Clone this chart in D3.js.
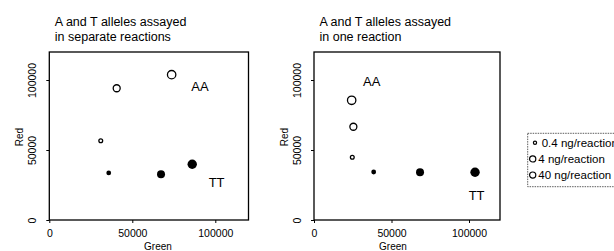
<!DOCTYPE html>
<html>
<head>
<meta charset="utf-8">
<script src="https://cdn.jsdelivr.net/npm/d3@7"></script>
<style>
  body { margin: 0; background: #fff; }
  svg { display: block; font-family: "Liberation Sans", Arial, sans-serif; }
</style>
</head>
<body>
<svg id="chart" width="614" height="251"></svg>
<script>
// Doses (legend) and tick values
const doses = ["0.4 ng/reaction", "4 ng/reaction", "40 ng/reaction"];
const tickValues = [0, 50000, 100000];

// Panel 1: separate reactions
const sepAAGreen = [31000, 40600, 73700];
const sepAARed = [56600, 94100, 103800];
const sepTTGreen = [35800, 67300, 86100];
const sepTTRed = [33600, 32600, 39800];

// Panel 2: one reaction
const oneAAGreen = [24700, 25400, 24300];
const oneAARed = [44800, 66600, 85500];
const oneTTGreen = [38500, 68400, 103900];
const oneTTRed = [34300, 34100, 34100];

const svg = d3.select("#chart");
const ink = "#000";

// symbol size per dose
const rScale = d3.scaleOrdinal().domain(doses).range([1.9, 3.5, 4.2]);

const panels = [
    {
        title: ["A and T alleles assayed", "in separate reactions"],
        left: 49.3, right: 248.5, labelX: 158,
        aa: { g: sepAAGreen, r: sepAARed }, tt: { g: sepTTGreen, r: sepTTRed },
        aaLabel: [90800, 92100], ttLabel: [100800, 23900]
    },
    {
        title: ["A and T alleles assayed", "in one reaction"],
        left: 314, right: 500, labelX: 393,
        aa: { g: oneAAGreen, r: oneAARed }, tt: { g: oneTTGreen, r: oneTTRed },
        aaLabel: [37200, 95700], ttLabel: [104900, 14300]
    }
];

const plotTop = 52, plotBottom = 220;

panels.forEach(p => {
    const x = d3.scaleLinear().domain([0, 120000]).range([p.left, p.right]);
    const y = d3.scaleLinear().domain([0, 120000]).range([plotBottom, plotTop]);

    // title, two lines
    svg.append("text")
        .attr("x", p.left + 5.5)
        .attr("y", 26)
        .style("font-size", "12.5px")
        .attr("fill", ink)
        .selectAll("tspan")
        .data(p.title)
        .join("tspan")
        .attr("x", p.left + 5.5)
        .attr("dy", (d, i) => i === 0 ? 0 : 14.5)
        .text(d => d);

    // frame
    svg.append("rect")
        .attr("x", p.left)
        .attr("y", plotTop)
        .attr("width", p.right - p.left)
        .attr("height", plotBottom - plotTop)
        .attr("fill", "none")
        .attr("stroke", ink)
        .attr("stroke-width", 1.3);

    // x axis
    const gx = svg.append("g")
        .attr("transform", `translate(0,${plotBottom})`)
        .call(d3.axisBottom(x).tickValues(tickValues).tickSize(3).tickFormat(d3.format("d")));
    gx.select(".domain").remove();
    gx.selectAll("line").attr("stroke", ink);
    gx.selectAll("text")
        .attr("y", 17.3)
        .attr("dy", 0)
        .attr("fill", ink)
        .style("font-size", "10.5px");

    // y axis, labels rotated
    const gy = svg.append("g")
        .attr("transform", `translate(${p.left},0)`)
        .call(d3.axisLeft(y).tickValues(tickValues).tickSize(3).tickFormat(d3.format("d")));
    gy.select(".domain").remove();
    gy.selectAll("line").attr("stroke", ink);
    gy.selectAll("text")
        .attr("transform", "rotate(-90)")
        .attr("x", 0)
        .attr("y", -13)
        .attr("dy", 0)
        .attr("text-anchor", "middle")
        .attr("fill", ink)
        .style("font-size", "10.5px");

    // axis titles
    svg.append("text")
        .attr("x", p.labelX)
        .attr("y", 249.5)
        .attr("text-anchor", "middle")
        .attr("fill", ink)
        .style("font-size", "10px")
        .text("Green");

    svg.append("text")
        .attr("transform", `translate(${p.left - 26.5},${(plotTop + plotBottom) / 2 + 1}) rotate(-90)`)
        .attr("text-anchor", "middle")
        .attr("fill", ink)
        .style("font-size", "10px")
        .text("Red");

    // AA points (open)
    svg.append("g")
        .selectAll("circle")
        .data(doses)
        .join("circle")
        .attr("cx", (d, i) => x(p.aa.g[i]))
        .attr("cy", (d, i) => y(p.aa.r[i]))
        .attr("r", d => rScale(d))
        .attr("fill", "#fff")
        .attr("stroke", ink)
        .attr("stroke-width", 1.3);

    // TT points (filled)
    svg.append("g")
        .selectAll("circle")
        .data(doses)
        .join("circle")
        .attr("cx", (d, i) => x(p.tt.g[i]))
        .attr("cy", (d, i) => y(p.tt.r[i]))
        .attr("r", d => rScale(d) + 0.5)
        .attr("fill", ink);

    // genotype labels
    svg.append("text")
        .attr("x", x(p.aaLabel[0]))
        .attr("y", y(p.aaLabel[1]))
        .attr("text-anchor", "middle")
        .attr("fill", ink)
        .style("font-size", "13px")
        .text("AA");

    svg.append("text")
        .attr("x", x(p.ttLabel[0]))
        .attr("y", y(p.ttLabel[1]))
        .attr("text-anchor", "middle")
        .attr("fill", ink)
        .style("font-size", "13px")
        .text("TT");
});

// legend
const legend = svg.append("g").attr("transform", "translate(527.7,133.3)");
legend.append("rect")
    .attr("width", 100)
    .attr("height", 53.4)
    .attr("fill", "none")
    .attr("stroke", "#333")
    .attr("stroke-width", 0.8)
    .attr("stroke-dasharray", "1.5,1");

const legendR = [1.6, 3.1, 3.1];
const legendSym = [7.3, 5, 5];
const legendText = [14, 10.6, 10.6];

legend.selectAll("circle")
    .data(doses)
    .join("circle")
    .attr("cx", (d, i) => legendSym[i])
    .attr("cy", (d, i) => 9.4 + i * 16.2)
    .attr("r", (d, i) => legendR[i])
    .attr("fill", "#fff")
    .attr("stroke", ink)
    .attr("stroke-width", 1.2);

legend.selectAll("text")
    .data(doses)
    .join("text")
    .attr("x", (d, i) => legendText[i])
    .attr("y", (d, i) => 9.4 + i * 16.2 + 4)
    .attr("fill", ink)
    .style("font-size", "11.5px")
    .text(d => d);
</script>
</body>
</html>
